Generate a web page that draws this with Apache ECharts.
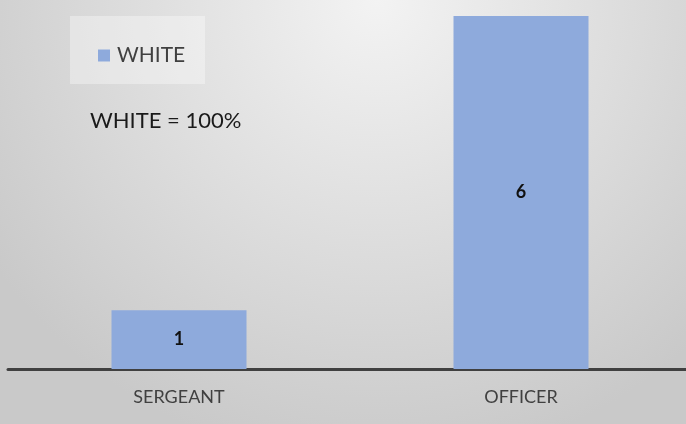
<!DOCTYPE html>
<html><head><meta charset="utf-8">
<script src="https://cdn.jsdelivr.net/npm/echarts@6/dist/echarts.min.js"></script>
<style>html,body{margin:0;padding:0;}#c{width:686px;height:424px;}</style>
</head><body><div id="c"></div>
<script>
const categories = ['SERGEANT', 'OFFICER'];
const whiteValues = [1, 6];
const seriesName = 'WHITE';
const noteText = 'WHITE = 100%';

const chart = echarts.init(document.getElementById('c'));
chart.setOption({
  backgroundColor: {
    type: 'radial', x: 0.55, y: 0.0, r: 1.1,
    colorStops: [{offset: 0, color: '#f3f3f3'}, {offset: 1, color: '#c9c9c9'}]
  },
  animation: false,
  graphic: [
    {type: 'rect', left: 70, top: 16, shape: {width: 135, height: 68}, style: {fill: 'rgba(255,255,255,0.35)'}, z: 0},
    {type: 'text', left: 90, top: 110, style: {text: noteText, font: '22px Lato, sans-serif', fill: '#1a1a1a'}}
  ],
  legend: {
    left: 93, top: 40, itemWidth: 12, itemHeight: 12, itemGap: 6, icon: 'rect',
    textStyle: {fontSize: 21, color: '#404040', fontFamily: 'Lato, sans-serif', padding: [0, 0, 0, 2]},
    data: [seriesName]
  },
  grid: {left: 8, top: 16, bottom: 55, width: 684, outerBoundsMode: 'none', containLabel: false},
  xAxis: {
    type: 'category', data: categories,
    axisLine: {lineStyle: {color: '#404040', width: 3}},
    axisTick: {show: false},
    axisLabel: {color: '#404040', fontSize: 18, margin: 19, fontFamily: 'Lato, sans-serif'}
  },
  yAxis: {type: 'value', min: 0, max: 6, show: false, splitLine: {show: false}},
  series: [{
    name: seriesName, type: 'bar', data: whiteValues, barWidth: 135,
    itemStyle: {color: '#8eaadc'},
    label: {show: true, position: 'inside', color: '#111', fontWeight: 'bold', fontSize: 18, fontFamily: 'Lato, sans-serif'}
  }]
});
</script></body></html>
